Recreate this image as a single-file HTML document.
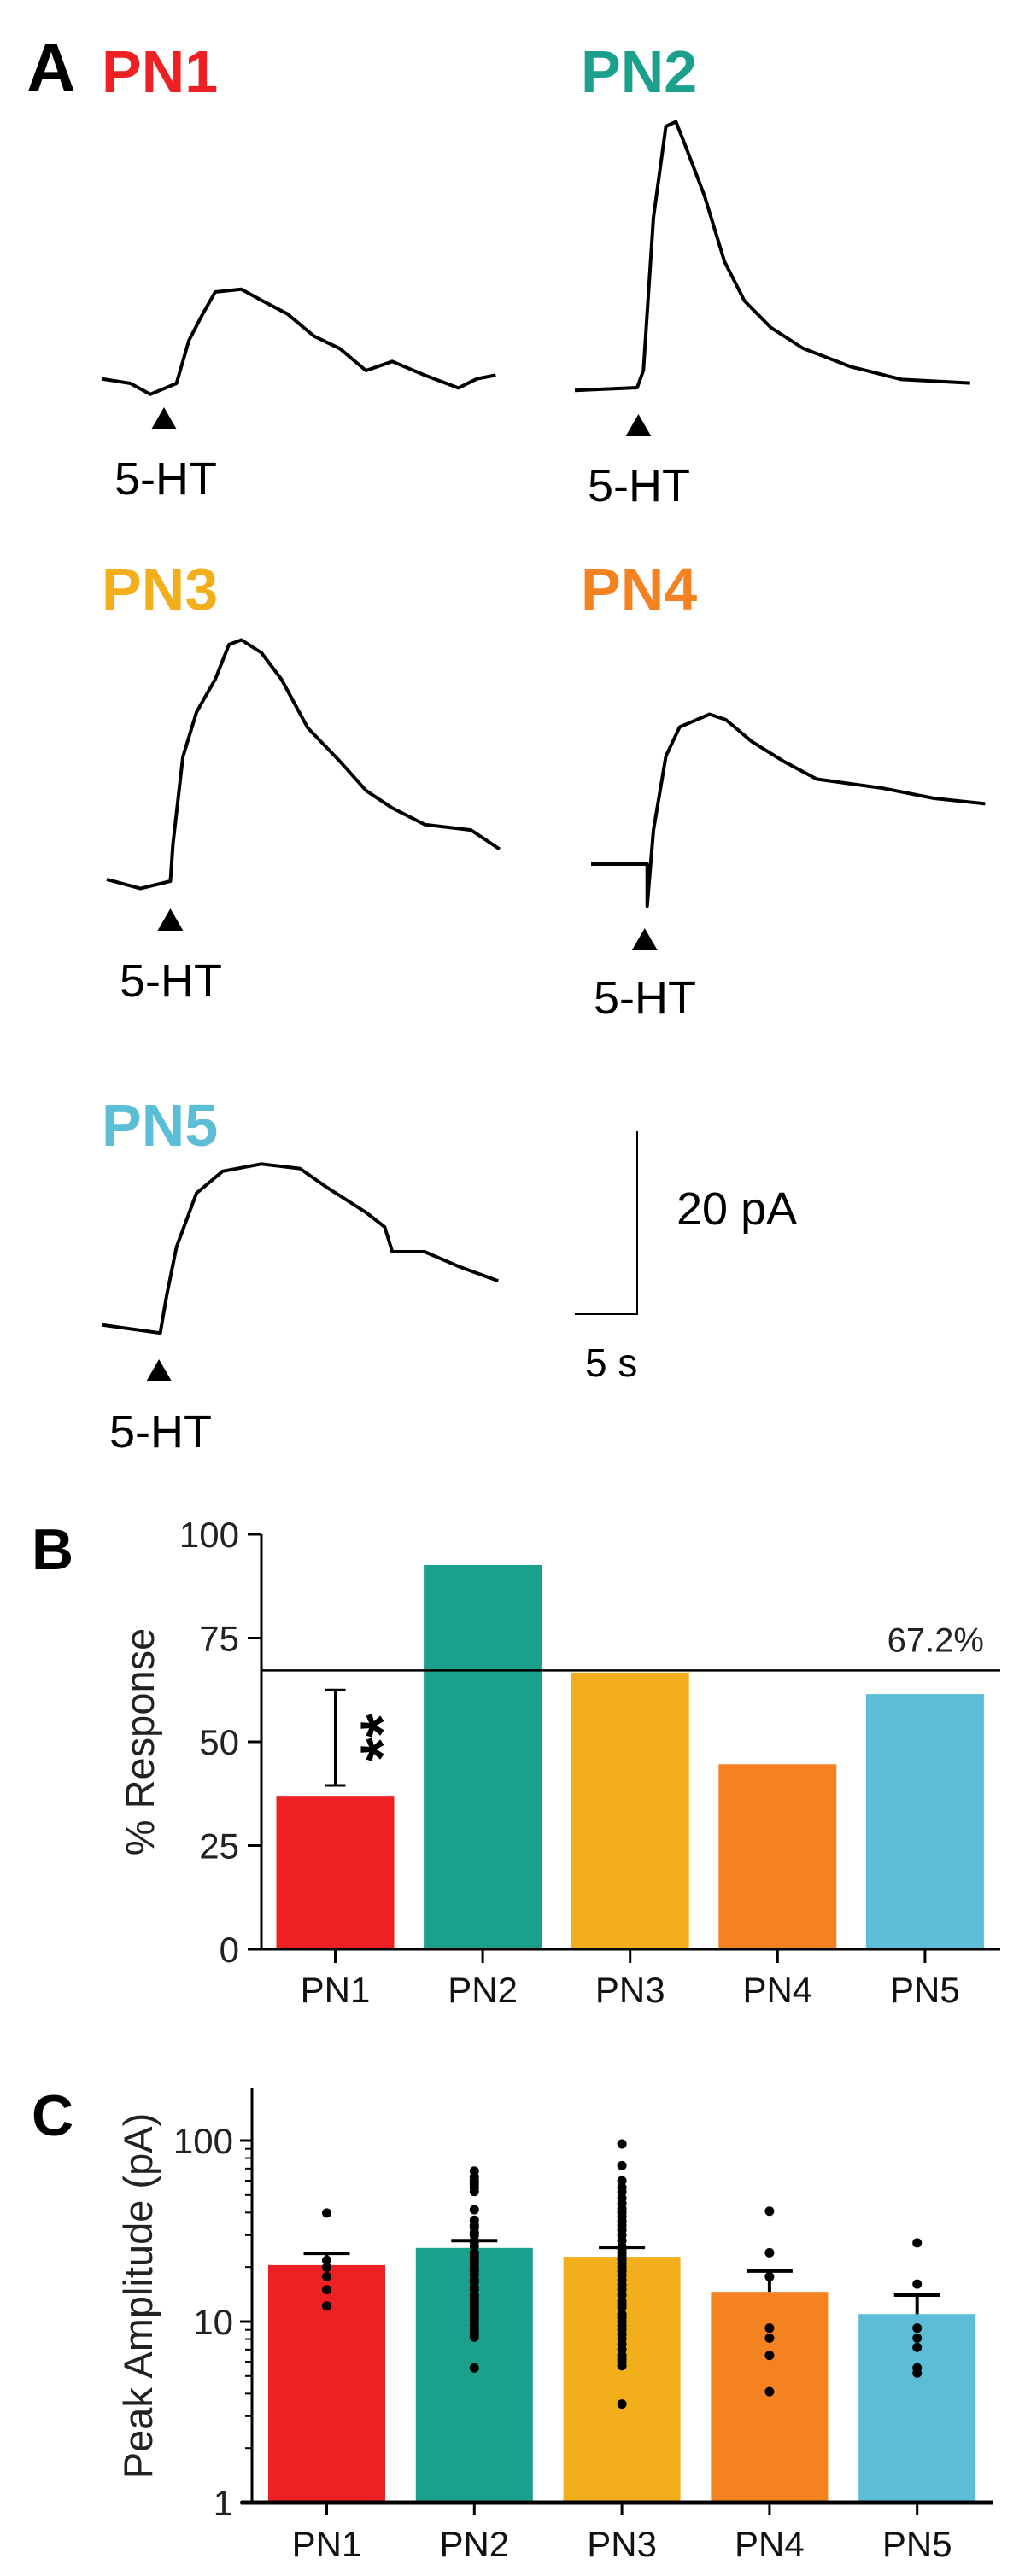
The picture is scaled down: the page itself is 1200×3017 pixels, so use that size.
<!DOCTYPE html>
<html><head><meta charset="utf-8"><style>
html,body{margin:0;padding:0;background:#fff;}
svg{display:block;font-family:"Liberation Sans",Arial,sans-serif;}
</style></head><body>
<svg id="fig" width="1200" height="3017" viewBox="0 0 1200 3017" xmlns="http://www.w3.org/2000/svg">
<g id="panelA">
<text x="31" y="107" font-size="80" font-weight="bold">A</text>
<text x="119" y="108" font-size="70" font-weight="bold" fill="#ED2024">PN1</text>
<text x="680" y="108" font-size="70" font-weight="bold" fill="#1BA18B">PN2</text>
<text x="119" y="714" font-size="70" font-weight="bold" fill="#F2AE1B">PN3</text>
<text x="680" y="714" font-size="70" font-weight="bold" fill="#F58220">PN4</text>
<text x="119" y="1342" font-size="70" font-weight="bold" fill="#5BBDD6">PN5</text>
<line x1="746" y1="1325" x2="746" y2="1540" stroke="#000" stroke-width="2"/>
<line x1="673" y1="1539" x2="747" y2="1539" stroke="#000" stroke-width="2"/>
<text x="792" y="1434" font-size="54">20 pA</text>
<text x="685" y="1612" font-size="46">5 s</text>
</g>
<g id="panelB">
<text x="37" y="1838" font-size="68" font-weight="bold">B</text>
<text transform="translate(180,2040) rotate(-90)" text-anchor="middle" font-size="47" fill="#222">% Response</text>
</g>
<g id="panelC">
<text x="37" y="2501" font-size="68" font-weight="bold">C</text>
<text transform="translate(178,2689) rotate(-90)" text-anchor="middle" font-size="47" fill="#222">Peak Amplitude (pA)</text>
</g>
</svg>
<script>
// ---------- Panel A trace data (time in s, current in pA) ----------
const pn1T=[0,2.3,3.9,6.0,7.0,8.1,9.1,11.2,12.8,14.9,17.0,19.1,21.2,23.3,25.9,28.6,30.1,31.6];
const pn1I=[0.5,0,-1.2,0,4.7,7.6,10,10.3,9.1,7.6,5.2,3.8,1.4,2.4,0.9,-0.5,0.5,0.9];
const pn2T=[0,5.0,5.5,6.3,7.3,8.1,8.8,10.4,12.0,13.6,15.7,18.3,22.1,26.2,31.7];
const pn2I=[-0.3,0,1.9,18.6,28.6,29.1,26.7,21.0,13.8,9.5,6.6,4.3,2.3,0.9,0.5];
const pn3T=[0,2.7,5.1,5.3,6.1,7.2,8.7,9.8,10.8,12.4,14.0,16.1,18.7,20.8,22.9,25.5,29.2,31.5];
const pn3I=[0.2,-0.8,0,4.0,13.6,18.5,22.1,25.9,26.4,25.0,22.1,16.8,13.1,9.9,8.0,6.2,5.6,3.5];
const pn4T=[0,4.5,4.5,5.0,6.0,7.1,9.5,10.8,12.9,15.5,18.1,23.4,27.5,31.6];
const pn4I=[0,0,-4.6,3.7,11.8,15.0,16.4,15.8,13.4,11.2,9.3,8.3,7.2,6.6];
const pn5T=[0,4.7,5.2,6.0,7.6,9.7,12.8,15.9,18.1,21.2,22.7,23.3,25.9,28.6,31.8];
const pn5I=[0.6,-0.3,3.7,9.1,15.0,17.4,18.2,17.7,15.6,12.9,11.3,8.6,8.6,7.0,5.4];
const drugTimes=[5.0,5.1,5.1,4.3,4.6];

// ---------- Panel B data ----------
const bCategories=["PN1","PN2","PN3","PN4","PN5"];
const bValues=[36.8,92.6,66.7,44.6,61.5];
const bTicks=[0,25,50,75,100];
const bRefValue=67.2;
const bRefLabel=["67.2%"];
const bSigLow=[39.5];
const bSigHigh=[62.5];

// ---------- Panel C data ----------
const cCategories=["PN1","PN2","PN3","PN4","PN5"];
const cMeans=[20.5,25.5,22.8,14.6,11.0];
const cSem=[23.8,28,25.7,19,14];
const cTicks=[1,10,100];
const cPn1=[39.8,21.8,19.9,17.7,15,12.2];
const cPn2=[67.8,63,60,57.6,55,52.3,41.5,36.3,34,33,31,30,28,27.5,26,24,23,21.8,21,19.9,19,18.1,17,16.5,15.5,15,14,13.7,13,12.5,12,11.4,11,10.4,10,9.5,9,8.6,8.2,5.55];
const cPn3=[95.8,72.7,60,55,52,48,45,42,40,38,36,34,32,30,28,26,25,24,23,22,21,20,19,18,17,16,15,14,13,12.5,12,11,10.5,10,9.5,9,8.5,8,7.5,7,6.5,6.2,6,5.7,3.5];
const cPn4=[40.7,24,17.7,9.2,8.1,6.5,4.1];
const cPn5=[27.2,16.1,9.2,8.1,7.2,5.55,5.2];

const NS="http://www.w3.org/2000/svg";
function mk(tag,attrs,parent){const e=document.createElementNS(NS,tag);for(const k in attrs)e.setAttribute(k,attrs[k]);parent.appendChild(e);return e;}

// Panel A
const gA=document.getElementById('panelA');
const pxPerS=14.6, pxPerPA=10.7;
const traces=[[pn1T,pn1I,119,449,"pn1"],[pn2T,pn2I,673,454,"pn2"],[pn3T,pn3I,125,1032,"pn3"],[pn4T,pn4I,692,1012,"pn4"],[pn5T,pn5I,119,1558,"pn5"]];
// arrow top y, label baseline y, label x
const arrowLayout=[[477,579,134],[485,587,688],[1064,1167,140],[1087,1187,695],[1592,1695,128]];
traces.forEach((tr,k)=>{
  const [T,I,x0,y0,nm]=tr;
  const pts=T.map((t,j)=>(x0+t*pxPerS).toFixed(1)+","+(y0-I[j]*pxPerPA).toFixed(1)).join(" ");
  const pl=mk('polyline',{points:pts,fill:"none",stroke:"#000","stroke-width":4,"stroke-linejoin":"round"},gA);
  
  
  const ax=x0+drugTimes[k]*pxPerS;
  const ay=arrowLayout[k][0];
  const tri=mk('polygon',{points:`${ax-15},${ay+26} ${ax+15},${ay+26} ${ax},${ay}`,fill:"#000"},gA);
  
  
  const tx=mk('text',{x:arrowLayout[k][2],y:arrowLayout[k][1],"font-size":54},gA);
  tx.textContent="5-HT";
  
  
});

// Panel B
const gB=document.getElementById('panelB');
const bx0=306,bx1=1171,by0=2283,by100=1797;
const bY=v=>by0-(v/100)*(by0-by100);
const bStep=172.6,bFirst=392.5,bW=138;
const bX=i=>bFirst+i*bStep;
const bColors=["#ED2024","#1BA18B","#F2AE1B","#F58220","#5BBDD6"];
bValues.forEach((v,i)=>{
  const r=mk('rect',{x:bX(i)-bW/2,y:bY(v),width:bW,height:by0-bY(v),fill:bColors[i]},gB);
  
  
});
const ref=mk('line',{x1:bx0,x2:bx1,y1:bY(bRefValue),y2:bY(bRefValue),stroke:"#000","stroke-width":2.5},gB);


const refT=mk('text',{x:1152,y:bY(bRefValue)-22,"text-anchor":"end","font-size":40,fill:"#222"},gB);
refT.textContent=bRefLabel[0];


const yAx=mk('line',{x1:bx0,x2:bx0,y1:by100,y2:by0+1,stroke:"#000","stroke-width":3},gB);


const xAx=mk('line',{x1:bx0,x2:bx1,y1:by0,y2:by0,stroke:"#000","stroke-width":3},gB);


bTicks.forEach(t=>{
  const l=mk('line',{x1:bx0-16,x2:bx0,y1:bY(t),y2:bY(t),stroke:"#000","stroke-width":3},gB);
  
  
  const tx=mk('text',{x:bx0-26,y:bY(t)+15,"text-anchor":"end","font-size":42,fill:"#222"},gB);
  tx.textContent=t;
  
  
});
bCategories.forEach((c,i)=>{
  const l=mk('line',{x1:bX(i),x2:bX(i),y1:by0,y2:by0+16,stroke:"#000","stroke-width":3},gB);
  
  
  const tx=mk('text',{x:bX(i),y:2345,"text-anchor":"middle","font-size":42,fill:"#111"},gB);
  tx.textContent=c;
  
  
});
const sig=mk('path',{d:`M${bX(0)-12},${bY(bSigHigh[0])}H${bX(0)+12}M${bX(0)},${bY(bSigHigh[0])}V${bY(bSigLow[0])}M${bX(0)-12},${bY(bSigLow[0])}H${bX(0)+12}`,stroke:"#000","stroke-width":3,fill:"none"},gB);


const st=mk('text',{transform:`translate(${bX(0)+80},${(bY(bSigHigh[0])+bY(bSigLow[0]))/2}) rotate(-90)`,"text-anchor":"middle","font-size":72,"font-weight":"bold"},gB);
st.textContent="**";



// Panel C
const gC=document.getElementById('panelC');
const cx0=295,cxEnd=1163,cy1=2931,decade=212,cTop=2446;
const cY=v=>cy1-Math.log10(v)*decade;
const cStep=172.8,cFirst=382.5,cW=137;
const cX=i=>cFirst+i*cStep;
cMeans.forEach((v,i)=>{
  const r=mk('rect',{x:cX(i)-cW/2,y:cY(v),width:cW,height:cy1-cY(v),fill:bColors[i]},gC);
  
  
});
[cPn1,cPn2,cPn3,cPn4,cPn5].forEach((arr,i)=>{
  arr.forEach(v=>{
    const c=mk('circle',{cx:cX(i),cy:cY(v),r:5.5,fill:"#000"},gC);
    
    
  });
});
cMeans.forEach((v,i)=>{
  const e=mk('path',{d:`M${cX(i)},${cY(v)}V${cY(cSem[i])}M${cX(i)-27},${cY(cSem[i])}H${cX(i)+27}`,stroke:"#000","stroke-width":4,fill:"none"},gC);
  
  
});
const cyAx=mk('line',{x1:cx0,x2:cx0,y1:cTop,y2:cy1,stroke:"#000","stroke-width":3},gC);


const cxAx=mk('line',{x1:282,x2:cxEnd,y1:cy1,y2:cy1,stroke:"#000","stroke-width":5},gC);


for(let d=1;d<=100;d*=10){for(let m=2;m<=9;m++){const v=d*m;if(cY(v)<cTop)continue;
  const l=mk('line',{x1:cx0-8,x2:cx0,y1:cY(v),y2:cY(v),stroke:"#000","stroke-width":2},gC);
  
  }}
cTicks.forEach(t=>{
  const l=mk('line',{x1:cx0-14,x2:cx0,y1:cY(t),y2:cY(t),stroke:"#000","stroke-width":3},gC);
  
  
  const tx=mk('text',{x:cx0-22,y:cY(t)+15,"text-anchor":"end","font-size":42,fill:"#222"},gC);
  tx.textContent=t;
  
  
});
cCategories.forEach((c,i)=>{
  const l=mk('line',{x1:cX(i),x2:cX(i),y1:cy1,y2:cy1+14,stroke:"#000","stroke-width":3},gC);
  
  
  const tx=mk('text',{x:cX(i),y:2994,"text-anchor":"middle","font-size":42,fill:"#111"},gC);
  tx.textContent=c;
  
  
});
</script>
</body></html>
